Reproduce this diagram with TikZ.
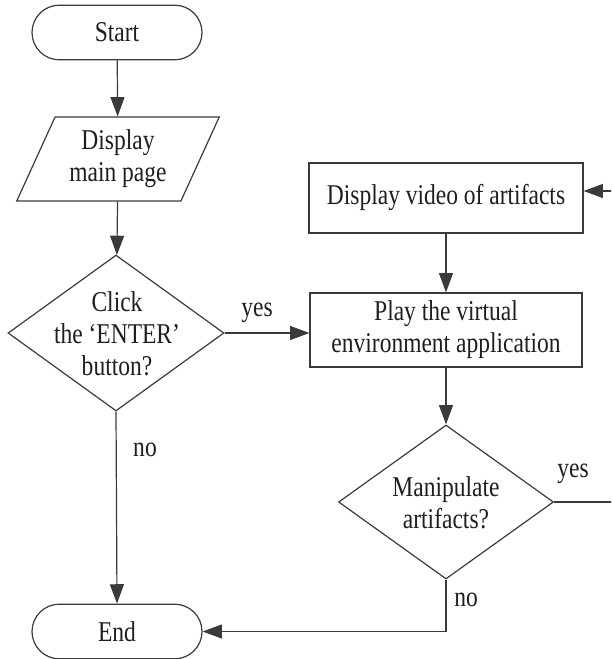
\documentclass[tikz,border=0pt]{standalone}
\usepackage{fontspec}
\setmainfont{Liberation Serif}[FakeStretch=0.82]
\usetikzlibrary{shapes.geometric,shapes.misc,arrows.meta}

\definecolor{linegray}{HTML}{3A3A3A}
\definecolor{inkblack}{HTML}{1E1E1E}

\tikzset{
  txt/.style={text=inkblack, align=center, inner sep=0pt,
              font=\fontsize{21.5}{24}\selectfont},
  base/.style={txt, draw=linegray, line width=0.9pt},
  term/.style={base, rounded rectangle, minimum width=127.5pt, minimum height=41pt},
  iobox/.style={base, trapezium, trapezium left angle=63, trapezium right angle=117,
                trapezium stretches=true, minimum width=152pt, minimum height=63pt},
  procbox/.style={base, rectangle},
  decision/.style={draw=linegray, line width=0.9pt, diamond, inner sep=0pt},
  flow/.style={draw=linegray, line width=0.9pt,
               -{Triangle[length=14.5pt, width=10.5pt]}},
  lbl/.style={txt}
}

\begin{document}
\begin{tikzpicture}[x=0.75pt, y=-0.75pt]
  \useasboundingbox (0,0) rectangle (611,659);
  \clip (0,0) rectangle (611,659);

  % left column
  \node[term] (start) at (117,32.5) {Start};
  \node[iobox] (show) at (118,159) {Display\\main page};
  \node[decision, minimum width=162pt, minimum height=117pt] (enter) at (116,333) {};
  \node[txt] (entertext) at (117,334) {Click\\the ‘ENTER’\\button?};
  \node[term] (finish) at (117,631.5) {End};

  % right column
  \node[procbox, minimum width=205.5pt, minimum height=52.5pt] (video) at (446,198)
        {Display video of artifacts};
  \node[procbox, minimum width=204pt, minimum height=55.5pt] (play) at (446,330)
        {Play the virtual\\environment application};
  \node[decision, minimum width=161.25pt, minimum height=115.5pt] (manip) at (446,502) {};
  \node[txt] (maniptext) at (446,503) {Manipulate\\artifacts?};

  % return route along the right edge
  \coordinate (loop) at (640,191);

  % connectors
  \draw[flow] (start) -- (show);
  \draw[flow] (show) -- (enter);
  \draw[flow] (enter.east) -- (enter.east -| play.west);
  \draw[flow] (enter.south) -- (finish.north);
  \draw[flow] (video) -- (play);
  \draw[flow] (play) -- (manip);
  \draw[flow] (manip.east) -- (manip.east -| loop) -- (loop) -- (loop -| video.east);
  \draw[flow] (manip.south) -- (manip.south |- finish.east) -- (finish.east);

  % branch labels
  \node[lbl] (yesA) at (257,313) {yes};
  \node[lbl] (noA) at (145,450) {no};
  \node[lbl] (yesB) at (573,474) {yes};
  \node[lbl] (noB) at (466,600) {no};
\end{tikzpicture}
\end{document}
